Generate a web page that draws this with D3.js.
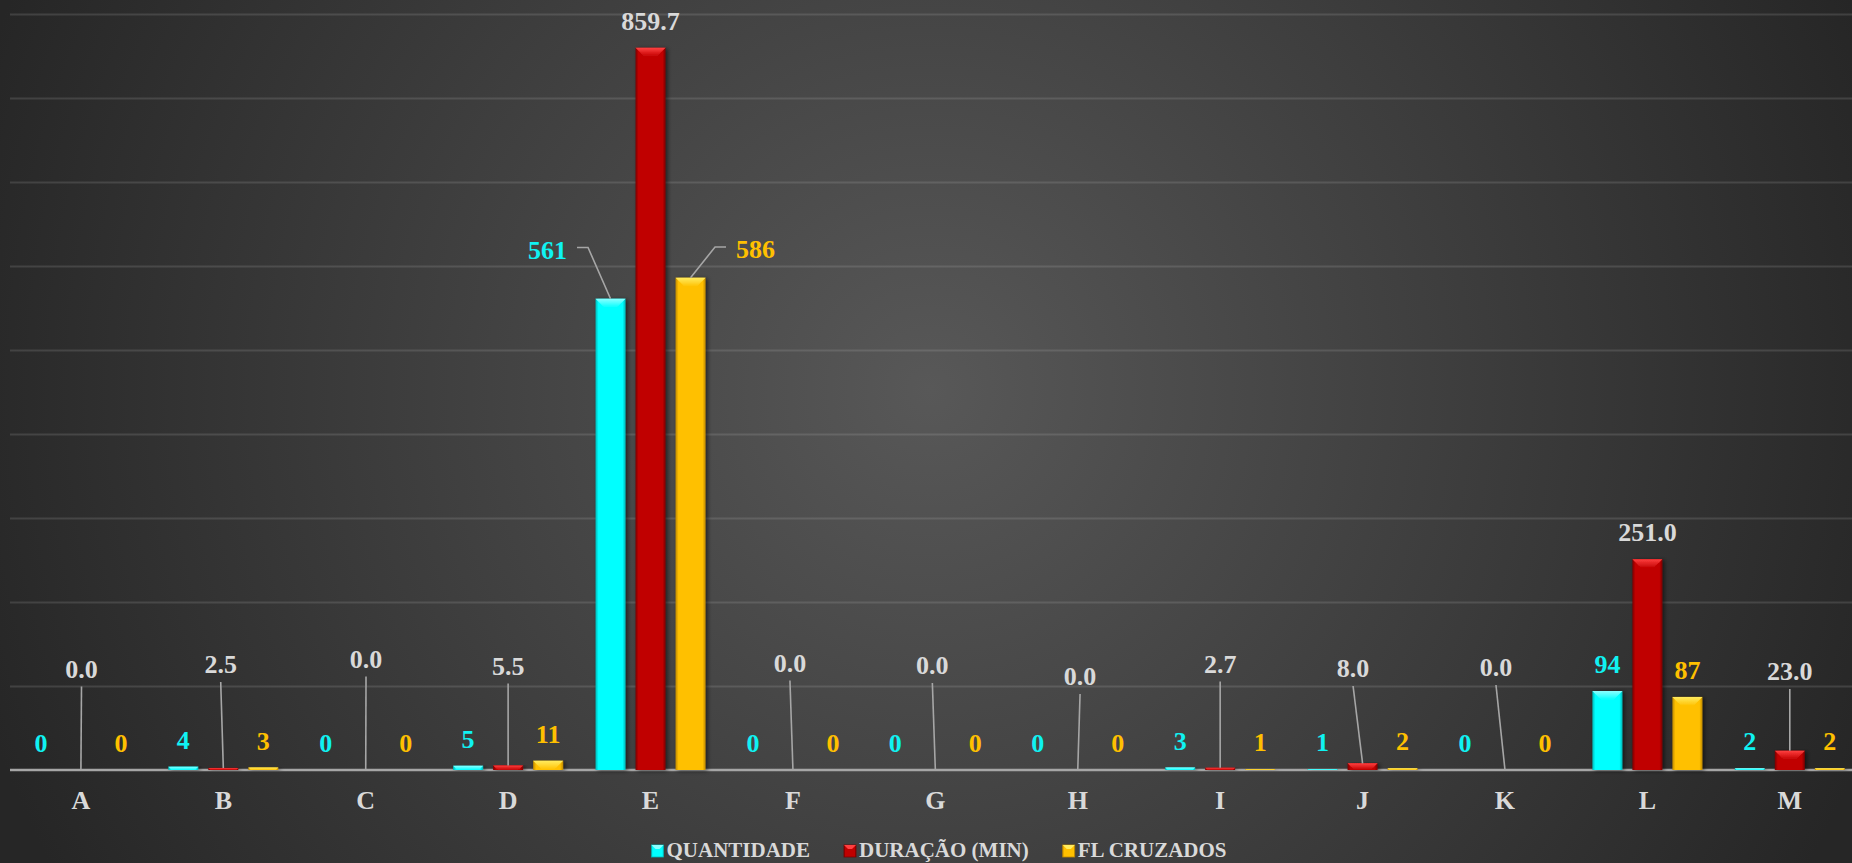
<!DOCTYPE html>
<html>
<head>
<meta charset="utf-8">
<script src="https://cdn.jsdelivr.net/npm/d3@7"></script>
<style>
  html, body { margin: 0; padding: 0; background: #262626; overflow: hidden; }
  text { font-family: "Liberation Serif", "Times New Roman", serif; font-weight: bold; }
</style>
</head>
<body>
<div id="chart"></div>
<script>
// données du graphique
const categories = ["A", "B", "C", "D", "E", "F", "G", "H", "I", "J", "K", "L", "M"];
const quantidade = [0, 4, 0, 5, 561, 0, 0, 0, 3, 1, 0, 94, 2];
const duracao = [0.0, 2.5, 0.0, 5.5, 859.7, 0.0, 0.0, 0.0, 2.7, 8.0, 0.0, 251.0, 23.0];
const flCruzados = [0, 3, 0, 11, 586, 0, 0, 0, 1, 2, 0, 87, 2];
const seriesNames = ["QUANTIDADE", "DURAÇÃO (MIN)", "FL CRUZADOS"];
const yTicks = [0, 100, 200, 300, 400, 500, 600, 700, 800, 900];

// étiquettes déplacées à la main (dx depuis le centre de la barre, dy du centre de l'étiquette depuis la ligne de base)
const movedLabels = [
  { s: 0, c: "E", dx: -63, dy: -520.5 },
  { s: 2, c: "E", dx: 65, dy: -521 },
  { s: 1, c: "A", dx: 0.6, dy: -101.5 },
  { s: 1, c: "B", dx: -2.6, dy: -106 },
  { s: 1, c: "C", dx: 0.3, dy: -111.5 },
  { s: 1, c: "D", dx: 0, dy: -104.5 },
  { s: 1, c: "F", dx: -3, dy: -107.5 },
  { s: 1, c: "G", dx: -3, dy: -105 },
  { s: 1, c: "H", dx: 2.3, dy: -94 },
  { s: 1, c: "I", dx: 0, dy: -106.5 },
  { s: 1, c: "J", dx: -9.5, dy: -102 },
  { s: 1, c: "K", dx: -9, dy: -103 },
  { s: 1, c: "M", dx: 0, dy: -99 }
];

const width = 1852;
const height = 863;
const baseY = 770;
const topY = 14;

const colors = [
  { base: "#00FFFF", dark: "#00B8B8", light: "#8CFFFF", text: "#10F2F2" },
  { base: "#C00000", dark: "#7A0000", light: "#FF4040", text: "#D9D9D9" },
  { base: "#FFC000", dark: "#C08A00", light: "#FFEC60", text: "#FFC000" }
];

const svg = d3.select("#chart")
  .append("svg")
  .attr("width", width)
  .attr("height", height);

const defs = svg.append("defs");

const bg = defs.append("radialGradient")
  .attr("id", "bg")
  .attr("gradientUnits", "userSpaceOnUse")
  .attr("cx", 930).attr("cy", 390).attr("r", 1000);
bg.append("stop").attr("offset", "0%").attr("stop-color", "#585858");
bg.append("stop").attr("offset", "100%").attr("stop-color", "#262626");

const shadow = defs.append("filter")
  .attr("id", "shadow")
  .attr("x", "-20%").attr("y", "-5%").attr("width", "150%").attr("height", "115%");
shadow.append("feDropShadow")
  .attr("dx", 2).attr("dy", 1).attr("stdDeviation", 2)
  .attr("flood-color", "#000").attr("flood-opacity", 0.55);

colors.forEach((c, i) => {
  const g = defs.append("linearGradient").attr("id", "body" + i)
    .attr("x1", "0%").attr("x2", "100%").attr("y1", "0%").attr("y2", "0%");
  g.append("stop").attr("offset", "0%").attr("stop-color", c.dark);
  g.append("stop").attr("offset", "10%").attr("stop-color", c.base);
  g.append("stop").attr("offset", "90%").attr("stop-color", c.base);
  g.append("stop").attr("offset", "100%").attr("stop-color", c.dark);

  const t = defs.append("linearGradient").attr("id", "bevel" + i)
    .attr("x1", "0%").attr("x2", "0%").attr("y1", "0%").attr("y2", "100%");
  t.append("stop").attr("offset", "0%").attr("stop-color", c.light);
  t.append("stop").attr("offset", "100%").attr("stop-color", c.base);
});

svg.append("rect")
  .attr("width", width)
  .attr("height", height)
  .attr("fill", "url(#bg)");

// échelles
const x = d3.scaleBand()
  .domain(categories)
  .range([9.7, 1861])
  .paddingInner(0.2275)
  .paddingOuter(0.11375);

const xSub = d3.scaleBand()
  .domain(d3.range(3))
  .range([0, x.bandwidth()])
  .paddingInner(0.25);

const y = d3.scaleLinear()
  .domain([0, 900])
  .range([baseY, topY]);

// grille
const grid = svg.append("g")
  .attr("transform", "translate(10,0)")
  .call(d3.axisLeft(y).tickValues(yTicks.slice(1)).tickSize(-(width - 10)).tickFormat(""));
grid.select(".domain").remove();
grid.selectAll(".tick line")
  .attr("stroke", "rgb(217,217,217)")
  .attr("stroke-opacity", 0.15)
  .attr("stroke-width", 2);

// axe des catégories
const xAxis = svg.append("g")
  .attr("transform", `translate(0,${baseY})`)
  .call(d3.axisBottom(x).tickSize(0).tickPadding(21));
xAxis.select(".domain")
  .attr("d", `M10,0H${width}`)
  .attr("stroke", "#A6A6A6")
  .attr("stroke-width", 2.5);
xAxis.selectAll(".tick text")
  .attr("fill", "#D9D9D9")
  .attr("font-size", 26)
  .attr("dy", "0.68em")
  .style("font-family", "'Liberation Serif', serif")
  .style("font-weight", "bold");

const allSeries = [quantidade, duracao, flCruzados];
const rows = [];
categories.forEach((c, ci) => {
  allSeries.forEach((vals, si) => rows.push({ c: c, s: si, v: vals[ci] }));
});

const barX = d => x(d.c) + xSub(d.s);
const barCx = d => barX(d) + xSub.bandwidth() / 2;

// barres
const bars = svg.append("g").selectAll("g.bar")
  .data(rows.filter(d => d.v > 0))
  .join("g")
  .attr("class", "bar")
  .attr("filter", "url(#shadow)");

bars.append("rect")
  .attr("x", barX)
  .attr("y", d => y(d.v))
  .attr("width", xSub.bandwidth())
  .attr("height", d => baseY - y(d.v))
  .attr("fill", d => `url(#body${d.s})`);

bars.append("path")
  .attr("d", d => {
    const x0 = barX(d), x1 = x0 + xSub.bandwidth(), t = y(d.v);
    const b = Math.min(9, baseY - t);
    return `M${x0},${t}L${x1},${t}L${x1 - b},${t + b}L${x0 + b},${t + b}Z`;
  })
  .attr("fill", d => `url(#bevel${d.s})`);

// étiquettes de valeurs
const fmt = [d3.format("d"), d3.format(".1f"), d3.format("d")];
const labels = svg.append("g");
const leaders = svg.append("g")
  .attr("fill", "none")
  .attr("stroke", "#A6A6A6")
  .attr("stroke-width", 1.6);

rows.forEach(d => {
  const mv = movedLabels.find(m => m.s === d.s && m.c === d.c);
  const bx = barCx(d), by = y(d.v);
  let lx = bx, ly = by - 27;
  if (mv) {
    lx = bx + mv.dx;
    ly = baseY + mv.dy;
  }
  const txt = labels.append("text")
    .attr("x", lx)
    .attr("y", ly)
    .attr("dy", "0.35em")
    .attr("text-anchor", "middle")
    .attr("font-size", 26)
    .attr("fill", colors[d.s].text)
    .text(fmt[d.s](d.v));
  if (mv) {
    const w = txt.node().getComputedTextLength();
    if (Math.abs(mv.dx) > 30) {
      // étiquette sur le côté : segment horizontal puis diagonale
      const side = mv.dx < 0 ? 1 : -1;
      const sx = lx + side * (w / 2 + 10);
      const hx = sx + side * 11;
      leaders.append("path").attr("d", `M${sx},${ly - 2}H${hx}L${bx},${by}`);
    } else {
      leaders.append("path").attr("d", `M${lx},${ly + 18}L${bx},${by}`);
    }
  }
});

// légende
const legend = svg.append("g");
let lxPos = 0;
seriesNames.forEach((name, i) => {
  const g = legend.append("g").attr("transform", `translate(${lxPos},0)`);
  g.append("rect")
    .attr("x", 0).attr("y", 845)
    .attr("width", 12).attr("height", 12)
    .attr("fill", `url(#body${i})`)
    .attr("stroke", colors[i].dark).attr("stroke-width", 0.8);
  g.append("path")
    .attr("d", "M0,845H12L8,849H4Z")
    .attr("fill", colors[i].light);
  const t = g.append("text")
    .attr("x", 15).attr("y", 857)
    .attr("font-size", 21)
    .attr("fill", "#D9D9D9")
    .text(name);
  lxPos += 15 + t.node().getComputedTextLength() + 34;
});
const legendW = lxPos - 34;
legend.attr("transform", `translate(${939 - legendW / 2},0)`);
</script>
</body>
</html>
